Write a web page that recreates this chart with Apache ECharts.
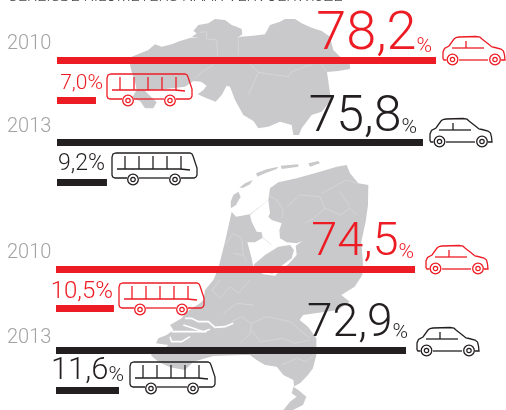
<!DOCTYPE html>
<html><head><meta charset="utf-8">
<style>html,body{margin:0;padding:0;background:#fff}#c{width:506px;height:410px}</style>
<script src="https://cdn.jsdelivr.net/npm/echarts@6/dist/echarts.min.js"></script>
</head><body><div id="c"></div>
<script>
// ---- data ----
const titleText = 'GEREISDE KILOMETERS NAAR VERVOERWIJZE';
const years = ['2010','2013','2010','2013'];
const carShares = [78.2,75.8,74.5,72.9];
const busShares = [7.0,9.2,10.5,11.6];

// ---- layout ----
const RED='#ed1c24', BLACK='#231f20', GREY='#c9c9cb', YEAR='#a2a3a5', LINE='#dadadc';
const colors=[RED,BLACK,RED,BLACK];
const FONT='Roboto';
const carLay=[
 {cy:60.5,left:57,scale:4.847,size:54,pct:21,off:[1,-25],pad:5},
 {cy:142.5,left:57,scale:4.828,size:50,pct:21,off:[-1,-24],pad:5},
 {cy:269.5,left:56,scale:4.819,size:47,pct:21,off:[4,-26],pad:4},
 {cy:350.5,left:56,scale:4.801,size:46,pct:21,off:[7,-26],pad:4}];
const busLay=[
 {cy:100.5,left:57,scale:5.57,size:21,pct:21,off:[12,-17],pad:0},
 {cy:182.5,left:57,scale:5.43,size:23,pct:23,off:[3,-18],pad:0},
 {cy:308.5,left:56,scale:5.52,size:24,pct:24,off:[4,-17],pad:0},
 {cy:390.5,left:56,scale:5.43,size:31,pct:21,off:[10,-19],pad:1}];
const yearPos=[[7,44],[7,127],[7,253],[7,338]];
const carPos=[[442,36],[429,118],[425,245],[416,327]];
const busPos=[[107,74],[112,153],[119,283],[130,362]];

// ---- background map tracing (decoration) ----
const conv=(l,ox,oy)=>l.map(p=>[ox+p[0]/3,oy+p[1]/3]);
const T=l=>conv(l,125,15), B8=l=>conv(l,150,155), B9=l=>conv(l,150,280);
const north=T([[20,125],[70,105],[90,88],[110,95],[140,88],[165,78],[198,68],[222,68],[200,66],[215,55],[205,48],[220,30],[250,25],[270,12],[300,15],[320,30],[335,35],[350,42],[352,58],[335,70],[345,65],[385,62],[420,58],[435,30],[465,20],[480,12],[510,12],[530,25],[560,38],[590,48],[615,65],[625,105],[645,125],[660,130],[675,150],[675,162],[640,168],[606,171],[618,255],[590,290],[560,300],[530,340],[522,360],[505,360],[500,330],[465,320],[430,335],[400,340],[385,318],[355,300],[330,255],[315,215],[305,212],[290,240],[272,260],[245,250],[218,238],[235,225],[245,212],[228,200],[205,198],[180,215],[120,222],[80,225],[60,228],[95,262],[85,280],[60,280],[45,258],[20,250],[35,225],[30,200],[20,170],[15,150]]);
const nl=[...B8([[245,170],[258,185],[300,178],[355,135],[360,100],[385,82],[440,70],[510,50],[560,35],[590,30],[600,55],[625,85],[655,90],[654,150],[647,200],[634,260],[639,325],[637,360],[614,395],[574,420],[599,440],[564,465],[459,480],[449,495],[474,515],[499,550]]),
 ...B9([[499,225],[489,265],[474,285],[450,310],[430,320],[445,330],[469,350],[459,375],[429,390],[400,390],[420,365],[440,350],[425,340],[432,315],[430,300],[400,285],[380,260],[345,255],[320,240],[300,225],[275,225],[190,228],[130,245],[105,270],[60,262],[25,245],[5,228],[0,210],[50,200],[55,195],[18,190],[25,175],[50,165],[70,150],[60,135],[95,115],[110,95],[150,70],[160,60],[165,30],[190,0]]),
 ...B8([[205,340],[225,260]])];
const islands=[
 B8([[265,110],[272,125],[258,150],[243,160],[242,140],[250,120]]),
 B8([[268,98],[285,85],[308,75],[300,88],[280,98]]),
 B8([[318,55],[350,43],[385,35],[380,42],[345,55],[322,65]]),
 B8([[392,32],[445,28],[445,35],[395,42]]),
 B8([[475,25],[505,18],[510,25],[480,35]])];
const water=B8([[300,180],[355,135],[360,175],[355,185],[365,195],[395,205],[388,225],[390,250],[410,262],[440,265],[458,257],[437,272],[440,300],[415,328],[400,338],[375,362],[340,358],[310,335],[305,310],[292,262],[315,262],[338,248],[335,232],[320,230],[305,200]]);
const flevo=B8([[310,330],[345,300],[385,275],[420,270],[432,285],[425,310],[395,332],[372,345],[368,356],[342,352],[325,340]]);
const delta=[
 [[250,130],[225,140],[195,142],[175,125],[145,125],[125,115],[105,115]],
 [[180,148],[160,155],[130,145],[100,135]],
 [[65,155],[110,155],[170,155]],
 [[60,170],[65,185],[95,185],[120,170]]].map(B9);
const lines=[
 ...[[[275,75],[278,125]],[[245,72],[275,75]],[[340,70],[340,120]],[[225,52],[245,50],[245,72]],[[265,150],[240,165],[210,190]],[[375,148],[400,172],[385,205],[370,240]],[[400,172],[450,180],[490,185],[500,170],[540,155],[560,150]],[[590,150],[605,170]]].map(T),
 ...[[[355,120],[380,135],[400,165],[395,190]],[[410,155],[450,120],[510,125],[525,160],[490,190],[465,205]],[[515,115],[570,85],[590,75],[620,85]],[[525,160],[570,180],[600,160],[620,180]],[[600,155],[570,110]],[[225,270],[250,235],[275,250],[280,300]],[[250,295],[280,300],[290,320]],[[335,245],[365,270]]].map(B8),
 ...[[[220,100],[260,70],[310,75]],[[305,130],[350,110],[420,125],[450,150],[480,175]],[[305,150],[330,185],[400,175],[435,190],[480,180]],[[395,255],[440,235],[470,245],[490,225]],[[210,0],[185,30],[210,55],[240,20],[265,40],[300,0]],[[245,125],[275,110],[305,130],[300,160],[270,190]]].map(B9)];

// ---- icons (local outlines) ----
const carLines=[
 [[4.5,24],[2,24],[1,22.5],[1,16],[2.5,12.5],[7,10],[12,3],[14,1.5],[17,1],[34,0.5],[38,1.2],[40,3],[47,8.5],[50,11],[53,11.5],[59,13],[61.5,15],[62.5,19],[63,24],[59,24]],
 [[46,24],[17,24]],[[10,12],[42,12]],[[24,12],[24,5]]];
const busLines=[
 [[15,25],[3,25],[0.8,24],[0,22],[0,4],[1,1],[4,0],[78,0],[80,1],[81,3],[85,15],[85,22],[84,24],[82,25],[69,25]],
 [[57,25],[27,25]],[[5,16],[68,16],[78,17]],
 [[13,3],[13,16]],[[27,3],[27,16]],[[41,3],[41,16]],[[55,3],[55,16]],[[69,3],[69,16]]];
function wheel(cx,cy,c){return [
 {type:'circle',shape:{cx,cy,r:5.3},style:{fill:'#fff',stroke:c,lineWidth:1.3},z:6},
 {type:'circle',shape:{cx,cy,r:2.2},style:{fill:'none',stroke:c,lineWidth:1.2},z:7}];}
function icon(pos,ls,wheels,c){return {type:'group',x:pos[0],y:pos[1],children:[
 ...ls.map(l=>({type:'polyline',shape:{points:l},style:{fill:'none',stroke:c,lineWidth:1.3},z:5})),
 ...wheels.flatMap(w=>wheel(w[0],w[1],c))]};}

const poly=(p,fill)=>({type:'polygon',shape:{points:p},style:{fill},z:0,silent:true});
const pl=(p,s,w)=>({type:'polyline',shape:{points:p},style:{stroke:s,lineWidth:w,fill:'none'},z:0,silent:true});

const graphic=[
 poly(north,GREY),poly(nl,GREY),...islands.map(i=>poly(i,GREY)),
 poly(water,'#fff'),poly(flevo,GREY),
 ...delta.map(d=>pl(d,'#fff',1.6)),
 ...lines.map(l=>pl(l,LINE,0.7)),
 ...years.map((y,i)=>({type:'text',x:yearPos[i][0],y:yearPos[i][1],z:5,
   style:{text:y,fill:YEAR,font:'300 20px '+FONT,verticalAlign:'middle'}})),
 ...carPos.map((p,i)=>icon(p,carLines,[[10.5,23.5],[53,23.5]],colors[i])),
 ...busPos.map((p,i)=>icon(p,busLines,[[21,26.5],[63,26.5]],colors[i]))
];

const grids=[],xAxes=[],yAxes=[],series=[];
function addRow(value,lay,color,axisMax,name){
 const i=grids.length;
 grids.push({left:lay.left,top:lay.cy-6,height:12,width:lay.scale*axisMax,containLabel:false});
 xAxes.push({type:'value',gridIndex:i,min:0,max:axisMax,show:false});
 yAxes.push({type:'category',gridIndex:i,data:[name],show:false});
 series.push({type:'bar',xAxisIndex:i,yAxisIndex:i,barWidth:7,silent:true,animation:false,
  itemStyle:{color},
  data:[{value,label:{show:true,position:'insideRight',offset:lay.off,
    formatter:'{n|'+value.toFixed(1).replace('.',',')+'}{p|%}',
    rich:{n:{fontFamily:FONT,fontWeight:300,fontSize:lay.size,color,lineHeight:lay.size,verticalAlign:'bottom'},
          p:{fontFamily:FONT,fontWeight:300,fontSize:lay.pct,color,lineHeight:lay.pct,verticalAlign:'bottom',padding:[0,0,lay.pad,0]}}}}]});
}
years.forEach((y,i)=>{
 addRow(carShares[i],carLay[i],colors[i],90,y+' auto');
 addRow(busShares[i],busLay[i],colors[i],20,y+' bus');
});
const chart=echarts.init(document.getElementById('c'),null,{renderer:'canvas'});
chart.setOption({animation:false,backgroundColor:'#fff',
 title:{text:titleText,left:7,top:-11,padding:0,textStyle:{fontFamily:'Roboto',fontWeight:300,fontSize:16,color:'#4a4a4c'}},
 grid:grids,xAxis:xAxes,yAxis:yAxes,series,graphic});
</script></body></html>
